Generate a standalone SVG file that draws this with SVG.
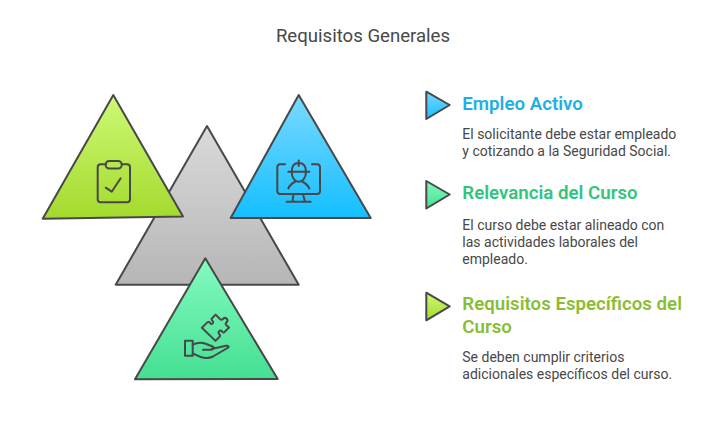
<svg xmlns="http://www.w3.org/2000/svg" width="722" height="430" viewBox="0 0 722 430">
<defs>
<linearGradient id="gLime" x1="0" y1="0" x2="0" y2="1"><stop offset="0" stop-color="#cdf975"/><stop offset="1" stop-color="#a4da2d"/></linearGradient>
<linearGradient id="gBlue" x1="0" y1="0" x2="0" y2="1"><stop offset="0" stop-color="#7bd9ff"/><stop offset="1" stop-color="#14bfff"/></linearGradient>
<linearGradient id="gGray" x1="0" y1="0" x2="0" y2="1"><stop offset="0" stop-color="#dadada"/><stop offset="1" stop-color="#b6b6b6"/></linearGradient>
<linearGradient id="gTeal" x1="0" y1="0" x2="0" y2="1"><stop offset="0" stop-color="#84fbc0"/><stop offset="1" stop-color="#44df92"/></linearGradient>
</defs>
<style>
.o{stroke:#484848;stroke-width:2;stroke-linejoin:round;stroke-linecap:round}
.i{fill:none;stroke:#484848;stroke-width:2;stroke-linejoin:round;stroke-linecap:round}
text{font-family:Roboto,"Liberation Sans",sans-serif}
.b{font-size:14px;fill:#484848}
.h{font-size:18.7px;font-weight:600}
</style>
<text id="title" x="363" y="42" text-anchor="middle" font-size="18.6" fill="#484848">Requisitos Generales</text>
<g id="connectors"></g>
<g id="center"><polygon class="o" fill="url(#gGray)" points="207,126 115.7,284.7 298.7,284.7"/></g>
<g id="tri-lime">
<polygon class="o" fill="url(#gLime)" points="113.3,95 42.7,218.7 183,216.5"/>
<path class="i" d="M105.7 164.3H100.7Q97.7 164.3 97.7 167.3V199.3Q97.7 202.3 100.7 202.3H127Q130 202.3 130 199.3V167.3Q130 164.3 127 164.3H121.7"/>
<rect class="i" x="105.7" y="161" width="16" height="7.5" rx="3.5"/>
<path class="i" d="M105.7 187.7L111.7 191.7L120.7 178.3"/>
</g>
<g id="tri-blue">
<polygon class="o" fill="url(#gBlue)" points="298.7,95 230.7,218 370.7,218"/>
<path class="i" d="M285 164.3H280.3Q277.3 164.3 277.3 167.3V191Q277.3 194 280.3 194H317Q320 194 320 191V167.3Q320 164.3 317 164.3H312"/>
<path class="i" d="M293.5 194L292.5 201.7M303 194L305 201.7M286.7 201.7H310.7"/>
<path class="i" d="M288.3 171.7H309.3M291.7 171.7C291.7 166 294 163 298.7 163C303.3 163 306 166 306 171.7M298.7 160.5V166"/>
<path class="i" d="M291.7 171.7C291.7 178 295 181.7 298.7 181.7C302.4 181.7 306 178 306 171.7"/>
<path class="i" d="M288.3 188.5C289.8 185 293.5 182.5 295.5 181.5M309.3 188.5C307.8 185 304 182.5 302 181.5"/>
</g>
<g id="tri-teal">
<polygon class="o" fill="url(#gTeal)" points="205.3,258.3 135,379.3 277.7,379"/>
<path class="i" d="M185 340.7H192.7V355.7H185Z"/>
<path class="i" d="M192.7 344.5C197 342.5 201 342 205 343.5L212 346.3C214.5 347.3 214 349.8 211 349.8H203M211.5 349L226 345.8C228.5 345.3 229.5 347 227.5 348L213 356.5C209 358.7 204 358.3 200 356.7L192.7 353.5"/>
<path class="i" d="M201.9 327.8L207.3 322.4C208.4 321.3 209.9 322.2 210.3 323.2C211.4 325.2 214.4 322.8 212.5 320.9C211.5 319.9 211.3 318.9 212 318.2L215.6 314.6L220.2 319.2C221.5 320.3 222.5 319.6 223.4 318.5C225.6 316.8 228.8 319.6 226.8 322C226 323 224.9 323.6 226.2 324.9L229 327.5L224.6 331.9C223.5 333 222.5 332.2 222 331.3C220.5 329.3 217.3 331.8 219.2 334C220.2 335 220.4 336 219.6 336.8L215.5 340.9L201.9 327.8Z"/>
</g>
<g id="item1">
<polygon class="o" fill="url(#gBlue)" points="426.3,91.7 449.7,105 426.3,119"/>
<text class="h" x="462.3" y="109.5" fill="#1db0e4">Empleo Activo</text>
<text class="b" x="462.3" y="138.5">El solicitante debe estar empleado</text>
<text class="b" x="462.3" y="155.5">y cotizando a la Seguridad Social.</text>
</g>
<g id="item2">
<polygon class="o" fill="url(#gTeal)" points="426.3,181 449.7,194.5 426.3,208.5"/>
<text class="h" x="462.3" y="199" fill="#32c57e">Relevancia del Curso</text>
<text class="b" x="462.3" y="230">El curso debe estar alineado con</text>
<text class="b" x="462.3" y="247">las actividades laborales del</text>
<text class="b" x="462.3" y="264">empleado.</text>
</g>
<g id="item3">
<polygon class="o" fill="url(#gLime)" points="426.3,292.7 449.7,306.3 426.3,320.3"/>
<text class="h" x="462.3" y="310" fill="#8abd36">Requisitos Específicos del</text>
<text class="h" x="462.3" y="333" fill="#8abd36">Curso</text>
<text class="b" x="462.3" y="362">Se deben cumplir criterios</text>
<text class="b" x="462.3" y="379">adicionales específicos del curso.</text>
</g>
</svg>
